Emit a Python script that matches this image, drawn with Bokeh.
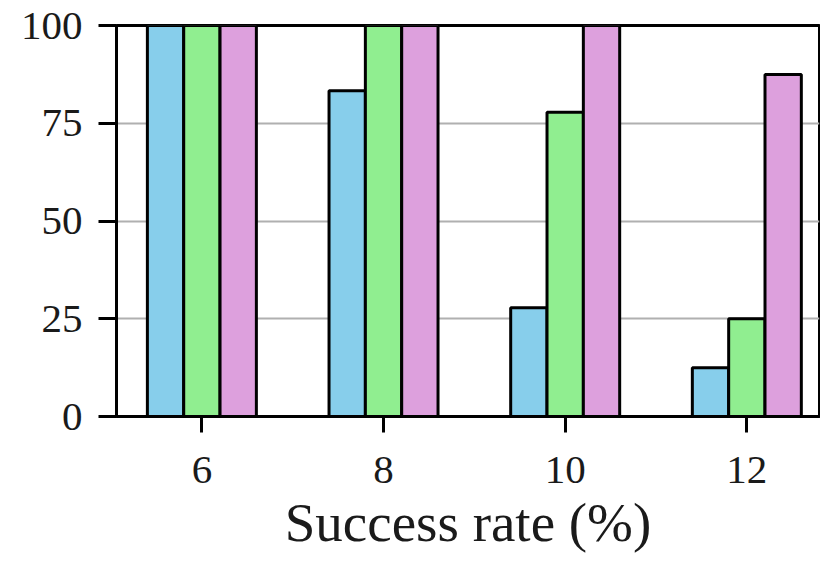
from bokeh.plotting import figure
from bokeh.models import Range1d, FixedTicker, ColumnDataSource
from bokeh.transform import dodge
from bokeh.embed import file_html
from bokeh.resources import INLINE

categories = ["6", "8", "10", "12"]
series_a = [100, 83.3, 27.8, 12.5]
series_b = [100, 100, 77.8, 25]
series_c = [100, 100, 100, 87.5]
y_ticks = [0, 25, 50, 75, 100]
x_label = "Success rate (%)"

colors = ["#87CEEB", "#90EE90", "#DDA0DD"]
pos = list(range(len(categories)))

src = ColumnDataSource(dict(pos=pos, a=series_a, b=series_b, c=series_c))

p = figure(width=820, height=555, output_backend="svg", toolbar_location=None,
           x_range=Range1d(-0.47, 3.40), y_range=Range1d(0, 100),
           min_border_left=116, min_border_right=1, min_border_top=25, min_border_bottom=136)

bw = 0.2
for key, off, col in zip(["a", "b", "c"], [-bw, 0, bw], colors):
    p.vbar(x=dodge("pos", off, range=p.x_range), top=key, width=bw, bottom=0,
           source=src, fill_color=col, line_color="black", line_width=3)

p.xgrid.visible = False
p.ygrid.ticker = FixedTicker(ticks=y_ticks)
p.ygrid.grid_line_color = "#b0b0b0"
p.ygrid.grid_line_width = 2
p.ygrid.level = "underlay"

p.outline_line_color = "black"
p.outline_line_width = 3
p.outline_line_alpha = 1.0

font = "Liberation Serif"
for ax in (p.xaxis[0], p.yaxis[0]):
    ax.axis_line_color = "black"
    ax.axis_line_width = 3
    ax.major_tick_line_color = "black"
    ax.major_tick_line_width = 3
    ax.major_tick_in = 0
    ax.minor_tick_line_color = None
    ax.major_label_text_font = font
    ax.major_label_text_font_size = "41px"
    ax.major_label_text_color = "#1a1a1a"
    ax.axis_label_text_font = font
    ax.axis_label_text_font_style = "normal"
    ax.axis_label_text_font_size = "55px"
    ax.axis_label_text_color = "#1a1a1a"

p.yaxis[0].ticker = FixedTicker(ticks=y_ticks)
p.yaxis[0].major_tick_out = 18
p.yaxis[0].major_label_standoff = 16

p.xaxis[0].ticker = FixedTicker(ticks=pos)
p.xaxis[0].major_label_overrides = {i: c for i, c in zip(pos, categories)}
p.xaxis[0].major_tick_out = 16
p.xaxis[0].major_label_standoff = 24
p.xaxis[0].axis_label = x_label
p.xaxis[0].axis_label_standoff = 6

open("out.html", "w").write(file_html(p, INLINE))
